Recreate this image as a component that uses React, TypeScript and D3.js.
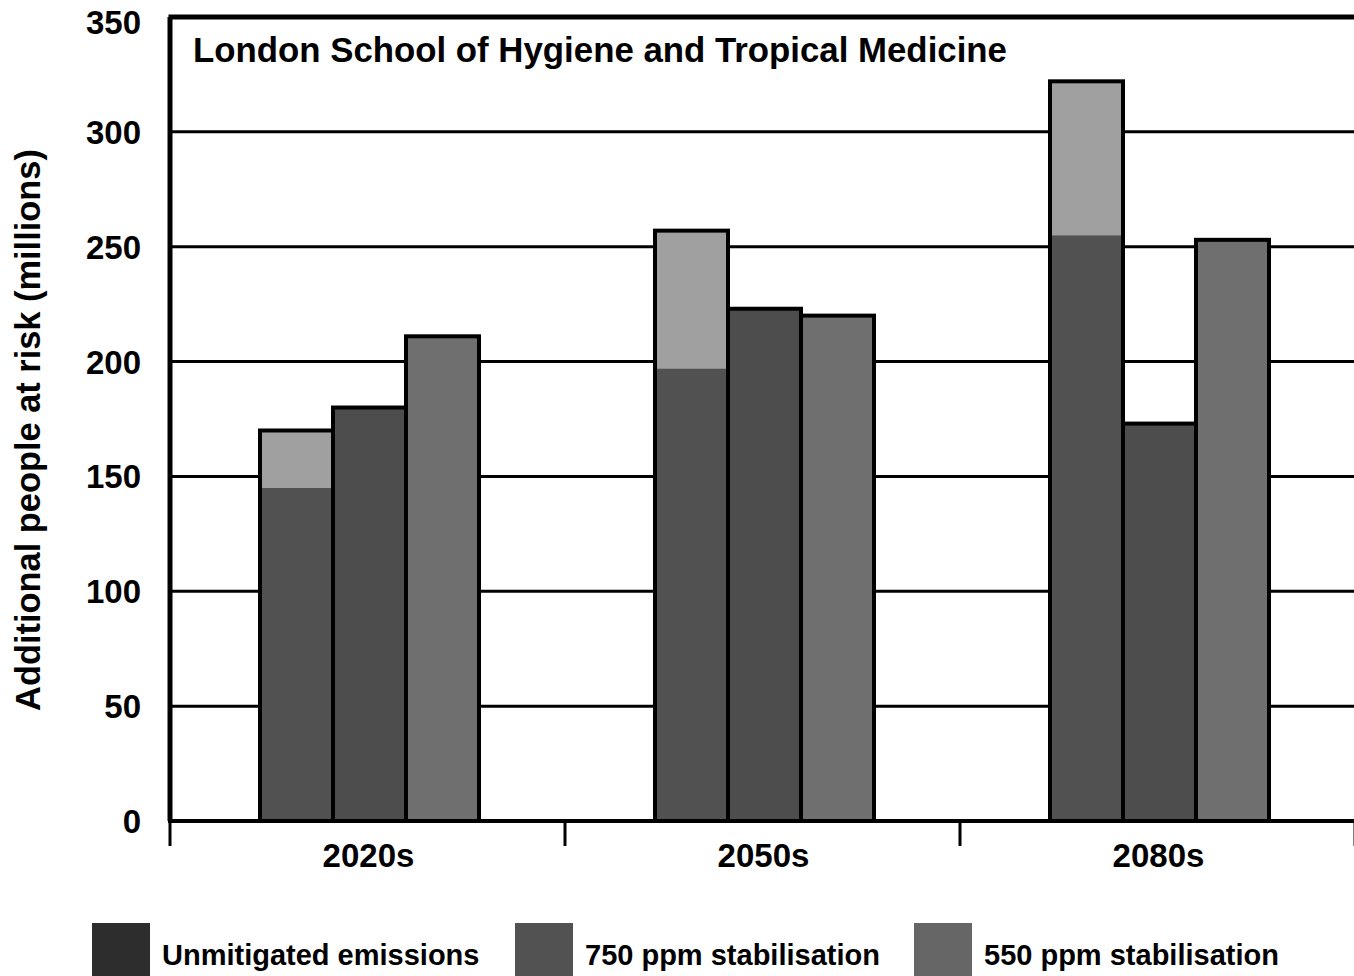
import * as d3 from 'd3';
import React from 'react';

// values in millions
const periods = ['2020s', '2050s', '2080s'];
const unmitigatedLow = [145, 197, 255];
const unmitigatedHigh = [170, 257, 322];
const ppm750 = [180, 223, 173];
const ppm550 = [211, 220, 253];
const yTicks = [0, 50, 100, 150, 200, 250, 300, 350];
const legendLabels = ['Unmitigated emissions', '750 ppm stabilisation', '550 ppm stabilisation'];
const legendColors = ['#2d2d2d', '#525252', '#666666'];

const W = 1354;
const H = 976;
const FONT = '"Liberation Sans", Arial, Helvetica, sans-serif';

const plot = { left: 171, right: 1356, top: 17, bottom: 821 };

export default function App() {
  const x = d3.scaleBand<string>().domain(periods).range([plot.left, plot.right]);
  const y = d3.scaleLinear().domain([0, 350]).range([plot.bottom, plot.top]);
  const groupWidth = 219;
  const inner = d3
    .scaleBand<string>()
    .domain(['unmit', 'p750', 'p550'])
    .range([0, groupWidth]);
  const groupX = (p: string) => x(p)! + x.bandwidth() / 2 - groupWidth / 2 + 1;

  const boundaries = [plot.left, ...periods.map((p) => x(p)! + x.bandwidth())];

  // legend items laid out left to right
  const legendX = [92, 515, 914];

  return (
    <div style={{ position: 'absolute', left: 0, top: 0 }}>
      <svg width={W} height={H} style={{ display: 'block', fontFamily: FONT }}>
        <rect width={W} height={H} fill="#ffffff" />

        {/* gridlines */}
        {yTicks
          .filter((t) => t > 0 && t < 350)
          .map((t) => (
            <line key={t} x1={plot.left} x2={W} y1={y(t)} y2={y(t)} stroke="#000" strokeWidth={3} />
          ))}

        {/* bars */}
        {periods.map((p, i) => {
          const gx = groupX(p);
          const bw = inner.bandwidth();
          const x0 = gx + inner('unmit')!;
          const x1 = gx + inner('p750')!;
          const x2 = gx + inner('p550')!;
          return (
            <g key={p}>
              <rect x={x0} y={y(unmitigatedHigh[i])} width={bw} height={y(unmitigatedLow[i]) - y(unmitigatedHigh[i])} fill="#a0a0a0" />
              <rect x={x0} y={y(unmitigatedLow[i])} width={bw} height={y(0) - y(unmitigatedLow[i])} fill="#515151" />
              <rect x={x0} y={y(unmitigatedHigh[i])} width={bw} height={y(0) - y(unmitigatedHigh[i])} fill="none" stroke="#000" strokeWidth={4} />
              <rect x={x1} y={y(ppm750[i])} width={bw} height={y(0) - y(ppm750[i])} fill="#4d4d4d" stroke="#000" strokeWidth={4} />
              <rect x={x2} y={y(ppm550[i])} width={bw} height={y(0) - y(ppm550[i])} fill="#6f6f6f" stroke="#000" strokeWidth={4} />
            </g>
          );
        })}

        {/* frame: top and left */}
        <line x1={plot.left - 2.5} x2={W} y1={plot.top} y2={plot.top} stroke="#000" strokeWidth={5} />
        <line x1={plot.left - 1} x2={plot.left - 1} y1={plot.top} y2={plot.bottom} stroke="#000" strokeWidth={5} />

        {/* x axis */}
        <line x1={plot.left - 3} x2={W} y1={y(0)} y2={y(0)} stroke="#000" strokeWidth={4} />
        {boundaries.map((b, i) => (
          <line key={i} x1={b - 1} x2={b - 1} y1={y(0)} y2={y(0) + 25} stroke="#000" strokeWidth={3} />
        ))}
        {periods.map((p) => (
          <text key={p} x={x(p)! + x.bandwidth() / 2} y={867} textAnchor="middle" fontSize={33} fontWeight="bold">
            {p}
          </text>
        ))}

        {/* y axis labels */}
        {yTicks.map((t) => (
          <text key={t} x={141} y={Math.max(y(t) + 12, 34)} textAnchor="end" fontSize={33} fontWeight="bold">
            {t}
          </text>
        ))}
        <text
          transform={`translate(40,${430}) rotate(-90)`}
          textAnchor="middle"
          fontSize={34.4}
          fontWeight="bold"
        >
          Additional people at risk (millions)
        </text>

        {/* title */}
        <text x={193} y={62} fontSize={34.8} fontWeight="bold">
          London School of Hygiene and Tropical Medicine
        </text>

        {/* legend */}
        {legendLabels.map((l, i) => (
          <g key={l} transform={`translate(${legendX[i]},923)`}>
            <rect width={58} height={53} fill={legendColors[i]} />
            <text x={70} y={42} fontSize={29} fontWeight="bold">
              {l}
            </text>
          </g>
        ))}
      </svg>
    </div>
  );
}
